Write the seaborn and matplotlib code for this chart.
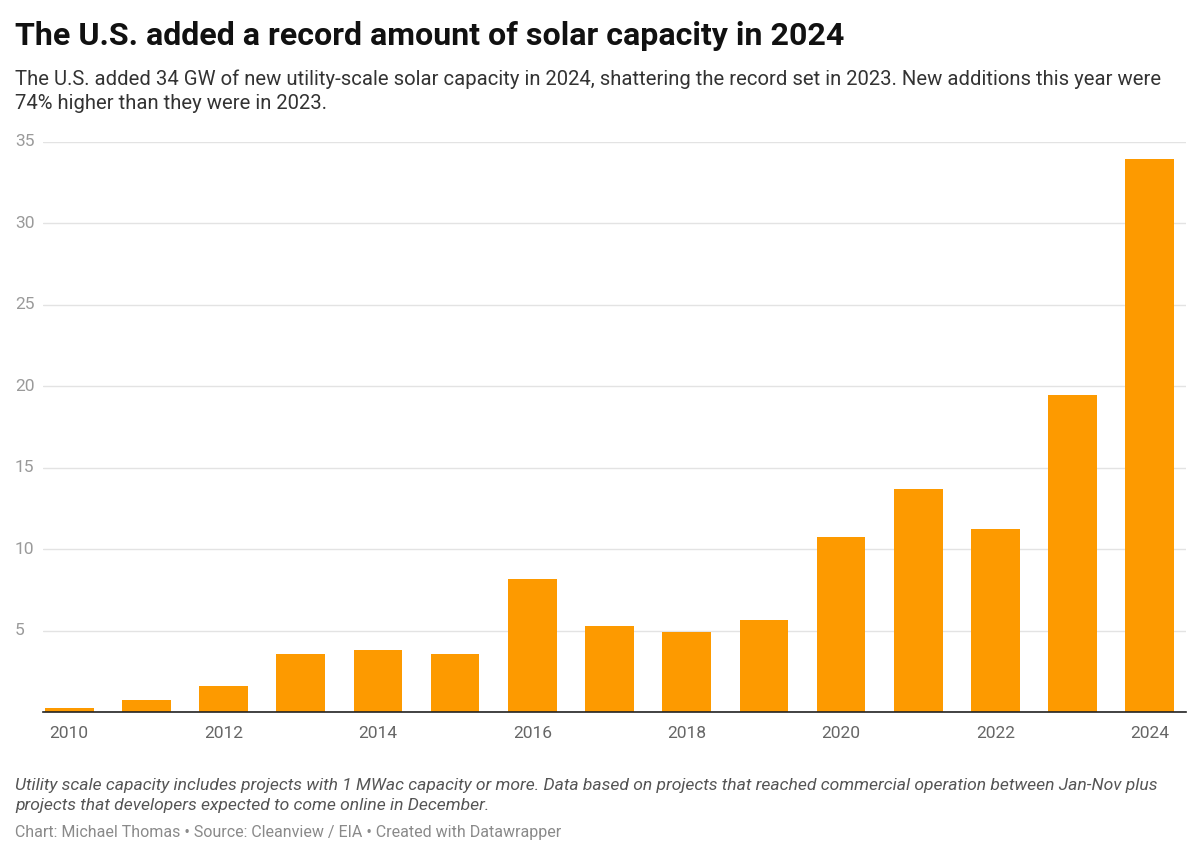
import matplotlib
matplotlib.use("Agg")
import matplotlib.pyplot as plt
import matplotlib.transforms as mtransforms
import pandas as pd
import seaborn as sns

years = list(range(2010, 2025))
capacity_gw = [0.23, 0.74, 1.6, 3.56, 3.83, 3.56, 8.15, 5.27, 4.94, 5.65,
               10.77, 13.72, 11.22, 19.47, 33.95]
y_ticks = [0, 5, 10, 15, 20, 25, 30, 35]
y_tick_labels = ["", "5", "10", "15", "20", "25", "30", "35"]

title = "The U.S. added a record amount of solar capacity in 2024"
subtitle = ("The U.S. added 34 GW of new utility-scale solar capacity in 2024, shattering the record set in 2023. "
            "New additions this year were\n74% higher than they were in 2023.")
note = ("Utility scale capacity includes projects with 1 MWac capacity or more. Data based on projects that reached "
        "commercial operation between Jan-Nov plus\nprojects that developers expected to come online in December.")
credit = "Chart: Michael Thomas • Source: Cleanview / EIA • Created with Datawrapper"

df = pd.DataFrame({"year": [str(y) for y in years], "capacity": capacity_gw})

sns.set_theme(style="white")
plt.rcParams["font.family"] = ["Roboto", "DejaVu Sans"]

fig = plt.figure(figsize=(12, 8.58), dpi=100)
ax = fig.add_axes([43 / 1200, 1 - 712 / 858, (1186 - 43) / 1200, (712 - 142) / 858])

sns.barplot(data=df, x="year", y="capacity", color="#fd9a00", width=0.63,
            saturation=1, edgecolor="none", ax=ax)

ax.set_ylim(0, 35)
ax.set_xlim(-0.34, 14.47)
ax.set_yticks(y_ticks)
ax.set_yticklabels([])
label_trans = mtransforms.blended_transform_factory(fig.transFigure, ax.transData)
for v, lab in zip(y_ticks, y_tick_labels):
    ax.text(15 / 1200, v, lab, transform=label_trans,
            ha="left", va="center", fontsize=12.5, color="#9a9a9a")
ax.yaxis.grid(True, color="#e3e3e3", linewidth=1)
ax.set_axisbelow(True)
ax.tick_params(axis="y", length=0)

xt = list(range(0, 15, 2))
ax.set_xticks(xt)
ax.set_xticklabels([str(years[i]) for i in xt], fontsize=12.5, color="#666666")
ax.tick_params(axis="x", length=0, pad=10)
ax.set_xlabel("")
ax.set_ylabel("")

for s in ["top", "right", "left"]:
    ax.spines[s].set_visible(False)
ax.spines["bottom"].set_color("#222222")
ax.spines["bottom"].set_linewidth(1.2)

fig.text(15 / 1200, 1 - 36 / 858, title, fontsize=23.1, fontweight="bold", color="#111111",
         ha="left", va="center")
fig.text(15 / 1200, 1 - 69 / 858, subtitle, fontsize=14.6, color="#333333",
         ha="left", va="top", linespacing=1.38)
fig.text(15 / 1200, 1 - 778 / 858, note, fontsize=12.6, color="#555555", style="italic",
         ha="left", va="top", linespacing=1.42)
fig.text(15 / 1200, 1 - 833 / 858, credit, fontsize=11.5, color="#8a8a8a",
         ha="left", va="center")

fig.savefig("out.png", dpi=100, facecolor="white")
